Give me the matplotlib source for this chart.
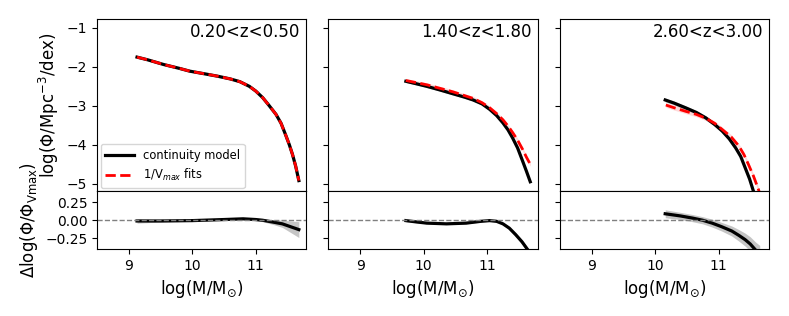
import matplotlib
import matplotlib.pyplot as plt

# Use Agg backend for headless environments
matplotlib.use('Agg')

z_labels = ["0.20<z<0.50", "1.40<z<1.80", "2.60<z<3.00"]

# continuity model (black) per panel
model_x = [
    [9.13, 9.3, 9.55, 9.8, 9.96, 10.2, 10.4, 10.6, 10.75, 10.9, 11.0, 11.11,
     11.2, 11.32, 11.4, 11.47, 11.53, 11.58, 11.63, 11.68],
    [9.72, 9.9, 10.05, 10.25, 10.46, 10.65, 10.78, 10.92, 11.04, 11.15, 11.25,
     11.33, 11.40, 11.48, 11.56, 11.62, 11.68],
    [10.16, 10.3, 10.48, 10.65, 10.80, 10.94, 11.06, 11.17, 11.27, 11.35,
     11.42, 11.49, 11.55, 11.58],
]
model_y = [
    [-1.75, -1.82, -1.94, -2.04, -2.11, -2.18, -2.24, -2.31, -2.38, -2.50,
     -2.62, -2.79, -2.97, -3.22, -3.45, -3.74, -4.0, -4.25, -4.55, -4.92],
    [-2.37, -2.44, -2.50, -2.59, -2.69, -2.78, -2.85, -2.95, -3.09, -3.25,
     -3.44, -3.62, -3.82, -4.08, -4.42, -4.68, -4.95],
    [-2.85, -2.93, -3.05, -3.17, -3.31, -3.48, -3.65, -3.85, -4.08, -4.30,
     -4.59, -4.88, -5.19, -5.35],
]
model_err = [0.02, 0.03, 0.05]

# 1/Vmax fits (red dashed)
vmax_x = [
    model_x[0],
    [9.72, 10.05, 10.46, 10.78, 10.92, 11.04, 11.15, 11.25, 11.33, 11.40,
     11.48, 11.56, 11.62, 11.68],
    [10.17, 10.3, 10.48, 10.65, 10.80, 10.94, 11.06, 11.2, 11.32, 11.40,
     11.47, 11.55, 11.63, 11.67],
]
vmax_y = [
    model_y[0],
    [-2.35, -2.46, -2.64, -2.81, -2.92, -3.05, -3.20, -3.36, -3.52, -3.68,
     -3.88, -4.12, -4.32, -4.50],
    [-2.98, -3.05, -3.14, -3.22, -3.32, -3.45, -3.61, -3.80, -4.03, -4.25,
     -4.50, -4.80, -5.15, -5.35],
]
vmax_err = [0.02, 0.05, 0.06]

# residuals log(Phi/Phi_Vmax)
res_x = [
    [9.13, 9.5, 10.0, 10.5, 10.8, 11.0, 11.11, 11.3, 11.42, 11.55, 11.68],
    [9.72, 9.9, 10.05, 10.36, 10.67, 10.9, 11.04, 11.15, 11.25, 11.35, 11.45,
     11.55, 11.64, 11.70],
    [10.16, 10.4, 10.59, 10.75, 10.90, 11.05, 11.21, 11.32, 11.42, 11.50,
     11.58, 11.65],
]
res_y = [
    [-0.01, -0.01, -0.005, 0.01, 0.02, 0.01, 0.0, -0.03, -0.05, -0.09, -0.13],
    [-0.005, -0.025, -0.04, -0.05, -0.04, -0.015, -0.005, -0.015, -0.05, -0.11,
     -0.2, -0.3, -0.41, -0.48],
    [0.09, 0.06, 0.03, 0.0, -0.04, -0.09, -0.15, -0.21, -0.27, -0.33, -0.41,
     -0.47],
]
res_err = [
    [0.03, 0.015, 0.01, 0.01, 0.01, 0.015, 0.02, 0.035, 0.05, 0.08, 0.11],
    [0.015, 0.01, 0.01, 0.01, 0.01, 0.01, 0.01, 0.01, 0.015, 0.02, 0.025,
     0.03, 0.03, 0.03],
    [0.055, 0.05, 0.05, 0.05, 0.055, 0.06, 0.07, 0.08, 0.09, 0.1, 0.11, 0.12],
]


def main() -> None:
    fig = plt.figure(figsize=(7.89, 3.16), dpi=100)
    gs = fig.add_gridspec(
        2, 3, height_ratios=[3, 1], hspace=0.0, wspace=0.105,
        left=0.123, right=0.975, top=0.94, bottom=0.212,
    )

    for i in range(3):
        ax = fig.add_subplot(gs[0, i])
        rax = fig.add_subplot(gs[1, i], sharex=ax)

        lo = [y - model_err[i] for y in model_y[i]]
        hi = [y + model_err[i] for y in model_y[i]]
        ax.fill_between(model_x[i], lo, hi, color='grey', alpha=0.4, lw=0)
        lo = [y - vmax_err[i] for y in vmax_y[i]]
        hi = [y + vmax_err[i] for y in vmax_y[i]]
        ax.fill_between(vmax_x[i], lo, hi, color='red', alpha=0.15, lw=0)
        ax.plot(model_x[i], model_y[i], color='black', lw=2.3,
                label='continuity model')
        ax.plot(vmax_x[i], vmax_y[i], color='red', lw=2, ls='--',
                label=r'1/V$_{max}$ fits')

        ax.text(0.97, 0.925, z_labels[i], transform=ax.transAxes,
                ha='right', va='center', fontsize=12)
        ax.set_xlim(8.5, 11.8)
        ax.set_ylim(-5.2, -0.77)
        ax.set_yticks([-5, -4, -3, -2, -1])
        ax.tick_params(axis='x', bottom=False, labelbottom=False)
        ax.tick_params(axis='y', labelsize=10)

        lo = [y - e for y, e in zip(res_y[i], res_err[i])]
        hi = [y + e for y, e in zip(res_y[i], res_err[i])]
        rax.fill_between(res_x[i], lo, hi, color='grey', alpha=0.45, lw=0)
        rax.plot(res_x[i], res_y[i], color='black', lw=2.3)
        rax.axhline(0, color='grey', ls='--', lw=1)
        rax.set_ylim(-0.4, 0.4)
        rax.set_yticks([-0.25, 0.0, 0.25])
        rax.set_xticks([9, 10, 11])
        rax.tick_params(labelsize=10)
        rax.set_xlabel(r'log(M/M$_{\odot}$)', fontsize=12)

        if i == 0:
            ax.set_ylabel(r'log($\Phi$/Mpc$^{-3}$/dex)', fontsize=12)
            rax.set_ylabel(r'$\Delta$log($\Phi/\Phi_{\rm Vmax}$)', fontsize=12)
            ax.legend(loc='lower left', fontsize=8.3, handlelength=2.5,
                      borderaxespad=0.3)
        else:
            ax.tick_params(axis='y', labelleft=False)
            rax.tick_params(axis='y', labelleft=False)

    fig.savefig("out.png", dpi=100)
    plt.close(fig)


if __name__ == "__main__":
    main()
